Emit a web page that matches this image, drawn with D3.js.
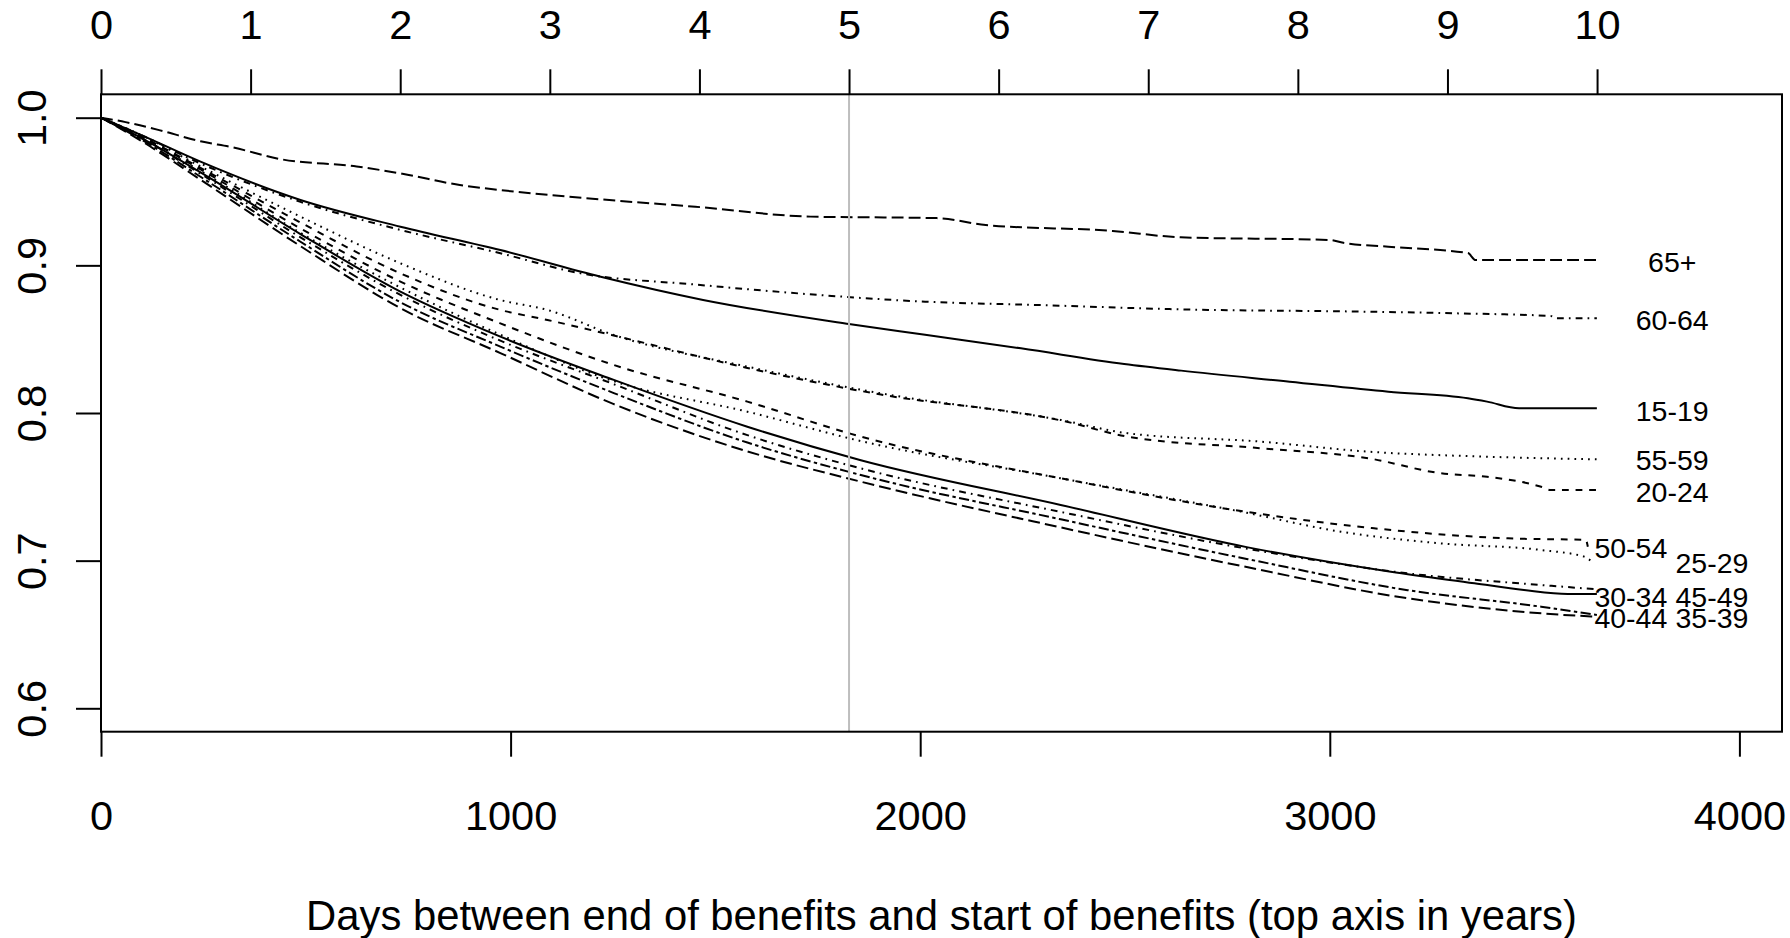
<!DOCTYPE html>
<html>
<head>
<meta charset="utf-8">
<script src="https://cdn.jsdelivr.net/npm/d3@7"></script>
<style>
  html, body { margin: 0; padding: 0; background: #ffffff; }
  svg { display: block; font-family: "Liberation Sans", Arial, sans-serif; }
</style>
</head>
<body>
<svg id="chart" width="1790" height="938"></svg>
<script>
// Kaplan-Meier style survival curves by age group

const groups = ["15-19", "20-24", "25-29", "30-34", "35-39", "40-44",
                "45-49", "50-54", "55-59", "60-64", "65+"];
const lineTypes = ["solid", "dashed", "dotted", "dotdash", "longdash", "twodash",
                   "solid", "dashed", "dotted", "dotdash", "longdash"];

// [days, survival] pairs per age group
const s15_19 = [[0,1],[100,0.988],[243,0.9702],[487,0.9443],[731,0.9262],[975,0.9104],[1220,0.8923],
  [1470,0.8766],[1826,0.8603],[2012,0.853],[2246,0.8438],[2498,0.8332],[2637,0.8287],[2902,0.8212],
  [3143,0.8144],[3337,0.81],[3384,0.8077],[3462,0.8032],[3652,0.8032]];
const s20_24 = [[0,1],[100,0.987],[243,0.966],[487,0.929],[731,0.8946],[975,0.8698],[1090,0.863],
  [1252,0.8525],[1578,0.8305],[1904,0.8125],[2343,0.795],[2506,0.784],[2832,0.7761],[3095,0.7693],
  [3271,0.7592],[3384,0.7568],[3516,0.75],[3540,0.7478],[3652,0.7478]];
const s25_29 = [[0,1],[100,0.986],[243,0.964],[487,0.922],[731,0.885],[975,0.853],[1252,0.8215],
  [1578,0.8009],[1855,0.781],[2343,0.7558],[2783,0.7332],[3027,0.7196],[3271,0.7117],[3516,0.7072],
  [3621,0.7027],[3640,0.6993]];
const s30_34 = [[0,1],[100,0.986],[243,0.962],[487,0.919],[731,0.88],[975,0.849],[1252,0.8195],
  [1578,0.785],[1855,0.7625],[2343,0.733],[2800,0.708],[3190,0.6914],[3516,0.6835],[3652,0.6806]];
const s35_39 = [[0,1],[100,0.984],[243,0.958],[487,0.913],[731,0.871],[975,0.8406],
  [1252,0.806],[1578,0.774],[1855,0.7535],[2343,0.7225],[2800,0.6955],[3190,0.6745],[3516,0.6643],
  [3652,0.662]];
const s40_44 = [[0,1],[100,0.985],[243,0.96],[487,0.916],[731,0.875],[975,0.845],[1252,0.8135],
  [1578,0.78],[1855,0.758],[2343,0.728],[2800,0.701],[3190,0.68],[3516,0.6688],[3652,0.6632]];
const s45_49 = [[0,1],[100,0.986],[243,0.963],[487,0.9212],[731,0.8822],[975,0.8517],[1252,0.8224],
  [1578,0.7907],[1855,0.768],[2343,0.7377],[2800,0.709],[3149,0.6925],[3353,0.6847],[3474,0.6801],
  [3581,0.6774],[3652,0.6774]];
const s50_54 = [[0,1],[100,0.987],[243,0.965],[487,0.925],[731,0.889],[975,0.8607],[1252,0.8325],
  [1578,0.8077],[1855,0.784],[2343,0.7558],[2783,0.7336],[3108,0.7219],[3435,0.7151],[3625,0.714],
  [3630,0.7094]];
const s55_59 = [[0,1],[100,0.988],[243,0.967],[487,0.933],[731,0.9014],[975,0.8765],[1090,0.8698],
  [1252,0.8528],[1578,0.8314],[1904,0.8133],[2343,0.7953],[2506,0.7863],[2832,0.7806],[3095,0.7738],
  [3384,0.7704],[3652,0.7686]];
const s60_64 = [[0,1],[100,0.988],[243,0.969],[487,0.943],[731,0.924],[975,0.9082],[1171,0.8946],
  [1451,0.887],[1800,0.879],[2012,0.8754],[2292,0.8731],[2636,0.8702],[3095,0.8686],[3308,0.8675],
  [3539,0.8657],[3554,0.8641],[3652,0.8641]];
const s65plus = [[0,1],[60,0.997],[150,0.991],[243,0.984],[320,0.98],[437,0.972],[624,0.967],
  [736,0.962],[876,0.9544],[975,0.951],[1220,0.9447],[1451,0.9397],[1732,0.933],[2040,0.932],
  [2160,0.9273],[2470,0.9233],[2636,0.919],[2998,0.9172],[3033,0.9153],[3143,0.9126],[3337,0.9083],
  [3356,0.9036],[3652,0.9036]];

const curves = [s15_19, s20_24, s25_29, s30_34, s35_39, s40_44,
                s45_49, s50_54, s55_59, s60_64, s65plus];

// curve labels: position in data units (days, survival)
const labelX = [3836, 3836, 3933, 3735, 3933, 3735, 3933, 3735, 3836, 3836, 3836];
const labelY = [0.8018, 0.7465, 0.6984, 0.6754, 0.6612, 0.6612, 0.6754, 0.7088, 0.768, 0.8628, 0.9025];

// axes
const dayTicks = [0, 1000, 2000, 3000, 4000];
const dayTickLabels = ["0", "1000", "2000", "3000", "4000"];
const yearTicks = [0, 1, 2, 3, 4, 5, 6, 7, 8, 9, 10];
const yearTickLabels = ["0", "1", "2", "3", "4", "5", "6", "7", "8", "9", "10"];
const survTicks = [0.6, 0.7, 0.8, 0.9, 1.0];
const survTickLabels = ["0.6", "0.7", "0.8", "0.9", "1.0"];
const daysPerYear = 365.25;
const markerYear = 5;
const xTitle = "Days between end of benefits and start of benefits (top axis in years)";

// ---- layout ----
const box = { left: 101, top: 94.3, right: 1782, bottom: 731.7 };
const x = d3.scaleLinear().domain([0, 4104]).range([box.left, box.right]);
const y = d3.scaleLinear().domain([0.6, 1.0]).range([708.3, 117.7]);

const u = 1.7; // dash unit
const dashes = {
  solid: null,
  dashed: [4, 4],
  dotted: [1, 3],
  dotdash: [1, 3, 4, 3],
  longdash: [7, 3],
  twodash: [2, 2, 6, 2]
};

const svg = d3.select("#chart");
const tickFont = 41.5;

// survival curves
const line = d3.line().x(d => x(d[0])).y(d => y(d[1])).curve(d3.curveMonotoneX);
const curveG = svg.append("g").attr("fill", "none").attr("stroke", "#000");
curves.forEach((c, i) => {
  const da = dashes[lineTypes[i]];
  curveG.append("path")
    .attr("d", line(c))
    .attr("stroke-width", 2)
    .attr("stroke-linejoin", "round")
    .attr("stroke-dasharray", da ? da.map(v => v * u).join(",") : null);
});

// reference line at five years
svg.append("line")
  .attr("x1", x(markerYear * daysPerYear)).attr("x2", x(markerYear * daysPerYear))
  .attr("y1", box.top).attr("y2", box.bottom)
  .attr("stroke", "#bebebe").attr("stroke-width", 2);

// curve labels
svg.append("g")
  .attr("font-size", 28.5)
  .attr("text-anchor", "middle")
  .selectAll("text")
  .data(groups)
  .join("text")
  .attr("x", (d, i) => x(labelX[i]))
  .attr("y", (d, i) => y(labelY[i]))
  .attr("dy", "0.358em")
  .attr("fill", "#000")
  .text(d => d);

// plot frame
svg.append("rect")
  .attr("x", box.left).attr("y", box.top)
  .attr("width", box.right - box.left).attr("height", box.bottom - box.top)
  .attr("fill", "none").attr("stroke", "#000").attr("stroke-width", 2);

function styleAxis(g) {
  g.select(".domain").remove();
  g.selectAll(".tick line").attr("stroke", "#000").attr("stroke-width", 2);
  g.selectAll(".tick text").attr("fill", "#000").attr("font-size", tickFont)
    .attr("font-family", "Liberation Sans, Arial, sans-serif");
}

// bottom axis (days)
const bottomAxis = d3.axisBottom(x).tickValues(dayTicks)
  .tickFormat((d, i) => dayTickLabels[i]).tickSize(25).tickSizeOuter(0);
svg.append("g").attr("transform", `translate(0,${box.bottom})`).call(bottomAxis).call(styleAxis)
  .selectAll(".tick text").attr("y", 830 - box.bottom).attr("dy", 0);

// top axis (years)
const topAxis = d3.axisTop(x).tickValues(yearTicks.map(k => k * daysPerYear))
  .tickFormat((d, i) => yearTickLabels[i]).tickSize(25).tickSizeOuter(0);
svg.append("g").attr("transform", `translate(0,${box.top})`).call(topAxis).call(styleAxis)
  .selectAll(".tick text").attr("y", 39 - box.top).attr("dy", 0);

// left axis (survival), labels parallel to the axis
const leftAxis = d3.axisLeft(y).tickValues(survTicks)
  .tickFormat((d, i) => survTickLabels[i]).tickSize(25).tickSizeOuter(0);
svg.append("g").attr("transform", `translate(${box.left},0)`).call(leftAxis).call(styleAxis)
  .selectAll(".tick text")
  .attr("transform", "rotate(-90)")
  .attr("text-anchor", "middle")
  .attr("x", 0)
  .attr("y", 46 - box.left)
  .attr("dy", 0);

// axis title
svg.append("text")
  .attr("x", (box.left + box.right) / 2)
  .attr("y", 930)
  .attr("text-anchor", "middle")
  .attr("font-size", 41.8)
  .attr("fill", "#000")
  .text(xTitle);
</script>
</body>
</html>
